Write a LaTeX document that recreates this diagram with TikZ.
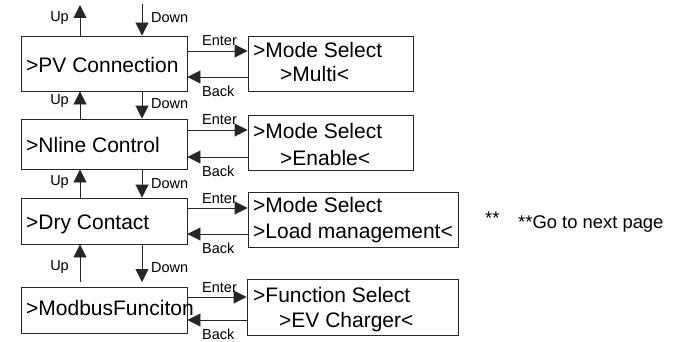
\documentclass[tikz,border=0pt]{standalone}
\usepackage{fontspec}
\setmainfont{Liberation Sans}
\usetikzlibrary{arrows.meta}
\begin{document}
\begin{tikzpicture}[x=1pt,y=-1pt,
  box/.style={draw=black!85,line width=0.9pt,inner sep=0pt,rectangle},
  arr/.style={draw=black!85,line width=0.9pt,-{Triangle[length=13pt,width=13pt]}},
  big/.style={font=\fontsize{21}{24}\selectfont,inner sep=0pt,anchor=base west},
  small/.style={font=\fontsize{14.5}{16}\selectfont,inner sep=0pt},
  note/.style={font=\fontsize{18.4}{20}\selectfont,inner sep=0pt,anchor=base west}]
\useasboundingbox (0,0) rectangle (676,342);
% left boxes
\node[box,minimum width=166pt,minimum height=55pt] (L1) at (104,63.5) {};
\node[box,minimum width=166pt,minimum height=50pt] (L2) at (104,144) {};
\node[box,minimum width=166pt,minimum height=46pt] (L3) at (104,221) {};
\node[box,minimum width=166pt,minimum height=46pt] (L4) at (104,310) {};
% right boxes
\node[box,minimum width=165pt,minimum height=55pt] (R1) at (330.5,63.5) {};
\node[box,minimum width=165pt,minimum height=55pt] (R2) at (330.5,142.5) {};
\node[box,minimum width=210pt,minimum height=55pt] (R3) at (353,219.5) {};
\node[box,minimum width=211pt,minimum height=56pt] (R4) at (352.5,307) {};
% texts
\node[big] (t1) at (26,73) {>PV Connection};
\node[big] (t2) at (26,152) {>Nline Control};
\node[big] (t3) at (26,229) {>Dry Contact};
\node[big] (t4) at (26,315) {>ModbusFunciton};
\node[big] (r1a) at (253,58) {>Mode Select};
\node[big] (r1b) at (280,82) {>Multi<};
\node[big] (r2a) at (253,138) {>Mode Select};
\node[big] (r2b) at (280,165) {>Enable<};
\node[big] (r3a) at (253,212) {>Mode Select};
\node[big] (r3b) at (253,238) {>Load management<};
\node[big] (r4a) at (253,302) {>Function Select};
\node[big] (r4b) at (279,327) {>EV Charger<};
\node[note] (n1) at (485,224) {**};
\node[note] (n2) at (518,228) {**Go to next page};
% top arrows
\coordinate (topU) at (80,5);
\coordinate (topD) at (142,4);
\draw[arr] (L1.north -| topU) -- (topU);
\draw[arr] (topD) -- (L1.north -| topD);
\node[small,anchor=base east] (u0) at (69,22) {Up};
\node[small,anchor=base west] (d0) at (151,23) {Down};
% between L1 and L2
\draw[arr] (L2.north -| topU) -- (L1.south -| topU);
\draw[arr] (L1.south -| topD) -- (L2.north -| topD);
\node[small,anchor=base east] (u1) at (69,105) {Up};
\node[small,anchor=base west] (d1) at (151,109) {Down};
% between L2 and L3
\draw[arr] (L3.north -| topU) -- (L2.south -| topU);
\draw[arr] (L2.south -| topD) -- (L3.north -| topD);
\node[small,anchor=base east] (u2) at (69,185) {Up};
\node[small,anchor=base west] (d2) at (151,188) {Down};
% between L3 and L4
\coordinate (u3s) at (80,282);
\coordinate (d3e) at (142,282);
\draw[arr] (u3s) -- (L3.south -| u3s);
\draw[arr] (L3.south -| d3e) -- (d3e);
\node[small,anchor=base east] (u3) at (69,270) {Up};
\node[small,anchor=base west] (d3) at (151,272) {Down};
% enter/back
\coordinate (e1) at (0,51);  \coordinate (b1) at (0,77);
\coordinate (e2) at (0,130); \coordinate (b2) at (0,157);
\coordinate (e3) at (0,208); \coordinate (b3) at (0,234);
\coordinate (e4) at (0,297); \coordinate (b4) at (0,320);
\draw[arr] (L1.east |- e1) -- (R1.west |- e1);
\draw[arr] (R1.west |- b1) -- (L1.east |- b1);
\draw[arr] (L2.east |- e2) -- (R2.west |- e2);
\draw[arr] (R2.west |- b2) -- (L2.east |- b2);
\draw[arr] (L3.east |- e3) -- (R3.west |- e3);
\draw[arr] (R3.west |- b3) -- (L3.east |- b3);
\draw[arr] (L4.east |- e4) -- (R4.west |- e4);
\draw[arr] (R4.west |- b4) -- (L4.east |- b4);
\node[small,anchor=base west] (en1) at (202,46) {Enter};
\node[small,anchor=base west] (bk1) at (202,96) {Back};
\node[small,anchor=base west] (en2) at (202,124) {Enter};
\node[small,anchor=base west] (bk2) at (202,176) {Back};
\node[small,anchor=base west] (en3) at (202,203) {Enter};
\node[small,anchor=base west] (bk3) at (202,253) {Back};
\node[small,anchor=base west] (en4) at (202,292) {Enter};
\node[small,anchor=base west] (bk4) at (202,339) {Back};
\end{tikzpicture}
\end{document}
